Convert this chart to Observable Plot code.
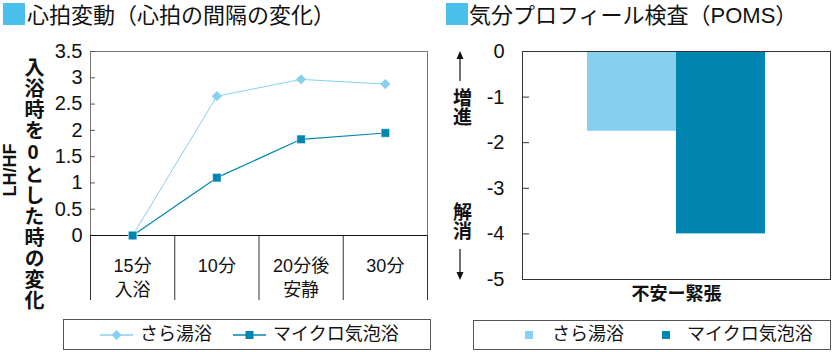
<!DOCTYPE html>
<html><head><meta charset="utf-8">
<script src="https://cdn.jsdelivr.net/npm/d3@7"></script>
<script src="https://cdn.jsdelivr.net/npm/@observablehq/plot@0.6"></script>
<style>
body{margin:0;background:#fff;}
#root{position:relative;width:833px;height:352px;overflow:hidden;font-family:"Liberation Sans","Noto Sans CJK JP",sans-serif;color:#111;}
.abs{position:absolute;white-space:nowrap;}
.title{font-size:22px;line-height:28px;top:2px;}
.sq{position:absolute;width:22px;height:22px;background:#4cc0ec;top:3px;}
.vert{writing-mode:vertical-rl;text-orientation:upright;font-weight:bold;}
.legend{position:absolute;border:1px solid #555;box-sizing:border-box;background:#fff;}
.ltext{position:absolute;font-size:18px;line-height:20px;top:4px;}
svg.plot{position:absolute;overflow:visible;}
</style></head><body><div id="root"></div>
<script>
// ---- data ----
const categories = ["15分\n入浴", "10分", "20分後\n安静", "30分"];
const saraValues = [0, 2.65, 2.97, 2.88];
const microValues = [0, 1.10, 1.83, 1.95];
const lhTicks = [0, 0.5, 1, 1.5, 2, 2.5, 3, 3.5];
const seriesNames = ["さら湯浴", "マイクロ気泡浴"];
const moodCategory = ["不安ー緊張"];
const moodValues = [-1.75, -4.0];
const moodTicks = [0, -1, -2, -3, -4, -5];
const lightColor = "#87d0f0";
const darkColor = "#0086b0";

const root = document.getElementById("root");

// ---- left chart ----
const idx = categories.map((_, i) => i);
const sara = idx.map(i => ({i, v: saraValues[i], s: seriesNames[0]}));
const micro = idx.map(i => ({i, v: microValues[i], s: seriesNames[1]}));
const separators = d3.range(categories.length + 1).map(i => i - 0.5);

const left = Plot.plot({
  width: 430, height: 305,
  marginLeft: 90, marginRight: 3, marginTop: 51, marginBottom: 70,
  style: {fontFamily: '"Liberation Sans","Noto Sans CJK JP",sans-serif', color: "#111", background: "transparent", overflow: "visible"},
  x: {type: "linear", domain: [-0.5, categories.length - 0.5]},
  y: {domain: [0, 3.5]},
  marks: [
    Plot.ruleY([3.5], {stroke: "#777"}),
    Plot.ruleX([separators[0], separators[separators.length - 1]], {stroke: "#777"}),
    Plot.axisX({ticks: separators, tickSize: 65, tickFormat: null, text: null, stroke: "#333", label: null}),
    Plot.axisX({ticks: idx, tickSize: 0, tickPadding: 20, tickFormat: i => categories[i], fontSize: 18, lineHeight: 1.3, label: null}),
    Plot.axisY({ticks: lhTicks, tickSize: -5, tickPadding: 13, tickFormat: d => String(d), fontSize: 20, stroke: "#555", label: null}),
    Plot.ruleY([0], {stroke: "#111"}),
    Plot.line(sara, {x: "i", y: "v", stroke: lightColor, strokeWidth: 1}),
    Plot.line(micro, {x: "i", y: "v", stroke: darkColor, strokeWidth: 1.2}),
    Plot.dot(sara, {x: "i", y: "v", symbol: "diamond2", r: 4.6, fill: lightColor, stroke: null}),
    Plot.dot(micro, {x: "i", y: "v", symbol: "square", r: 4.8, fill: darkColor, stroke: "#fff", strokeWidth: 0.5})
  ]
});
left.classList.add("plot");
left.style.left = "0px"; left.style.top = "0px";
root.appendChild(left);

// ---- right chart ----
const mood = seriesNames.map((s, k) => ({s, v: moodValues[k]}));
const right = Plot.plot({
  width: 403, height: 310,
  marginLeft: 92, marginRight: 3, marginTop: 51, marginBottom: 31,
  style: {fontFamily: '"Liberation Sans","Noto Sans CJK JP",sans-serif', color: "#111", background: "transparent", overflow: "visible"},
  x: {type: "band", domain: seriesNames, paddingInner: 0, paddingOuter: 0.73},
  y: {domain: [-5, 0]},
  color: {domain: seriesNames, range: [lightColor, darkColor]},
  marks: [
    Plot.barY(mood, {x: "s", y1: 0, y2: "v", fill: "s"}),
    Plot.frame({stroke: "#333"}),
    Plot.axisY({ticks: moodTicks, tickSize: -7, tickPadding: 25, tickFormat: d => String(d), fontSize: 20, stroke: "#333", label: null}),
    Plot.axisX({ticks: [], label: null}),
    Plot.text(moodCategory, {frameAnchor: "bottom", text: d => d, dy: 20, fontSize: 18, fontWeight: "bold"})
  ]
});
right.classList.add("plot");
right.style.left = "430px"; right.style.top = "0px";
root.appendChild(right);

// ---- titles and annotations ----
function el(html, cls, css) {
  const d = document.createElement("div");
  d.className = cls; d.innerHTML = html; Object.assign(d.style, css); root.appendChild(d); return d;
}
el("", "sq", {left: "3px"});
el("心拍変動（心拍の間隔の変化）", "abs title", {left: "27px"});
el("", "sq", {left: "446px"});
el("気分プロフィール検査（POMS）", "abs title", {left: "469px"});

el("LH/HF", "abs", {left: "-17px", top: "160px", fontSize: "18px", fontWeight: "bold", transform: "rotate(-90deg)", lineHeight: "20px"});
el("入浴時を0とした時の変化", "abs vert", {left: "22px", top: "57px", fontSize: "20px", lineHeight: "22px", letterSpacing: "1px"});

el("増進", "abs vert", {left: "450px", top: "88px", fontSize: "19px", lineHeight: "20px"});
el("解消", "abs vert", {left: "450px", top: "202px", fontSize: "19px", lineHeight: "20px"});
el('<svg width="12" height="32"><line x1="6" y1="4" x2="6" y2="30" stroke="#111" stroke-width="1.2"/><path d="M6 0 L9.5 8 L2.5 8 Z" fill="#111"/></svg>', "abs", {left: "454px", top: "51px"});
el('<svg width="12" height="32"><line x1="6" y1="0" x2="6" y2="26" stroke="#111" stroke-width="1.2"/><path d="M6 31 L9.5 23 L2.5 23 Z" fill="#111"/></svg>', "abs", {left: "454px", top: "249px"});

// ---- legends ----
const lg1 = el("", "legend", {left: "63px", top: "319px", width: "368px", height: "31px"});
lg1.innerHTML =
  `<svg class="abs" style="left:36px;top:8px" width="34" height="14"><line x1="0" y1="7" x2="33" y2="7" stroke="${lightColor}" stroke-width="1.5"/><path d="M16.5 2 L21.5 7 L16.5 12 L11.5 7 Z" fill="${lightColor}"/></svg>` +
  `<div class="ltext" style="left:76px">${seriesNames[0]}</div>` +
  `<svg class="abs" style="left:169px;top:8px" width="34" height="14"><line x1="0" y1="7" x2="33" y2="7" stroke="${darkColor}" stroke-width="1.5"/><rect x="12.5" y="3" width="8" height="8" fill="${darkColor}"/></svg>` +
  `<div class="ltext" style="left:209px">${seriesNames[1]}</div>`;
const lg2 = el("", "legend", {left: "473px", top: "320px", width: "358px", height: "30px"});
lg2.innerHTML =
  `<div class="abs" style="left:51px;top:10px;width:8px;height:8px;background:${lightColor}"></div>` +
  `<div class="ltext" style="left:78px;top:3px">${seriesNames[0]}</div>` +
  `<div class="abs" style="left:188px;top:10px;width:8px;height:8px;background:${darkColor}"></div>` +
  `<div class="ltext" style="left:213px;top:3px">${seriesNames[1]}</div>`;
</script></body></html>
